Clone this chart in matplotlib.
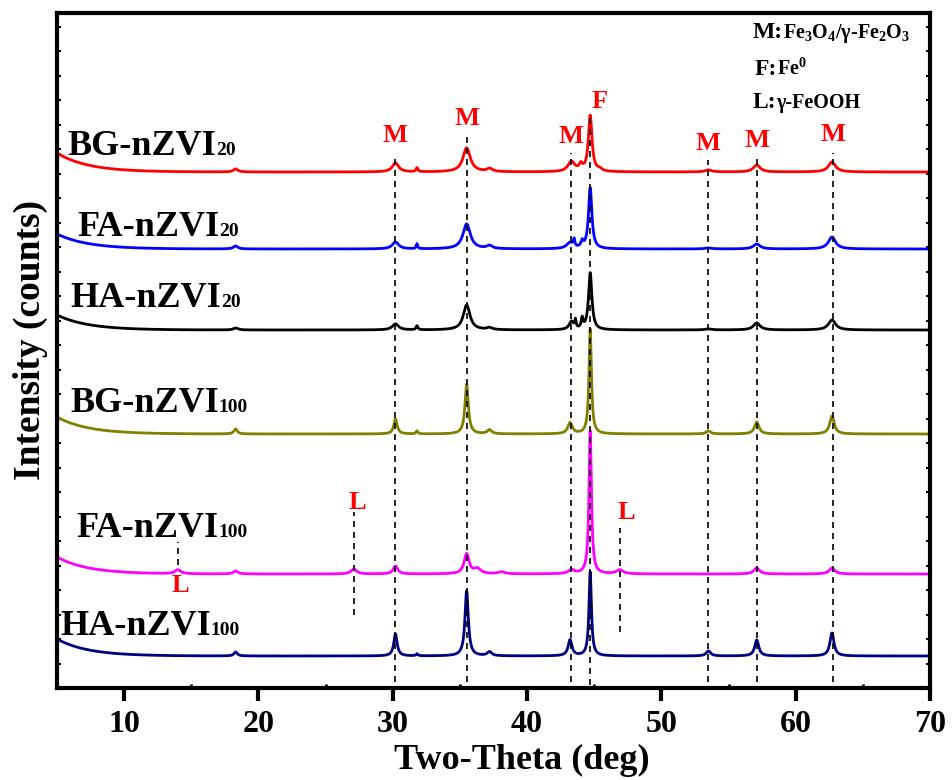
import matplotlib.pyplot as plt
import numpy as np
from matplotlib.ticker import MultipleLocator

# Bold serif everywhere, also inside math text (sub/superscripts)
plt.rcParams['font.family'] = 'Liberation Serif'
plt.rcParams['font.weight'] = 'bold'
plt.rcParams['mathtext.fontset'] = 'custom'
plt.rcParams['mathtext.rm'] = 'Liberation Serif:bold'
plt.rcParams['mathtext.it'] = 'Liberation Serif:bold'
plt.rcParams['mathtext.bf'] = 'Liberation Serif:bold'

# Samples (stacked from top to bottom)
names = ["BG-nZVI", "FA-nZVI", "HA-nZVI", "BG-nZVI", "FA-nZVI", "HA-nZVI"]
doses = ["20", "20", "20", "100", "100", "100"]
colors = ["#ff0000", "#0000ff", "#000000", "#808000", "#ff00ff", "#000080"]

# Background of each trace: flat level, extra counts at 5 deg, decay length (deg)
base = [516, 439, 358, 254, 114, 32]
rise = [19, 15, 15, 17, 17, 17]
decay = [2.3, 2.3, 2.3, 2.3, 2.3, 2.3]

# Peaks: position (deg), height above background, half width (deg)
bg20_pos = [18.3, 30.2, 31.8, 35.5, 37.2, 43.3, 44.0, 44.7, 45.4, 53.5, 57.1, 62.7]
bg20_h = [3, 9, 4, 24, 3, 10, 6, 56, 2, 2, 7, 10]
bg20_w = [0.2, 0.28, 0.08, 0.33, 0.25, 0.3, 0.15, 0.16, 0.2, 0.3, 0.3, 0.32]

fa20_pos = [18.3, 30.2, 31.8, 35.5, 37.2, 43.2, 43.5, 44.1, 44.7, 53.5, 57.1, 62.7]
fa20_h = [3, 7, 5, 25, 3, 6, 7, 6, 61, 1, 5, 12]
fa20_w = [0.2, 0.28, 0.06, 0.33, 0.25, 0.3, 0.06, 0.1, 0.15, 0.3, 0.3, 0.32]

ha20_pos = [18.3, 30.2, 31.8, 35.5, 37.2, 43.3, 43.6, 44.1, 44.7, 53.5, 57.1, 62.7]
ha20_h = [2, 6, 4, 25, 2, 8, 8, 10, 57, 1, 7, 10]
ha20_w = [0.2, 0.28, 0.08, 0.3, 0.25, 0.2, 0.06, 0.08, 0.15, 0.3, 0.3, 0.32]

bg100_pos = [18.3, 30.2, 31.8, 35.5, 37.2, 43.2, 44.7, 53.5, 57.1, 62.7]
bg100_h = [5, 15, 3, 50, 4, 11, 105, 3, 12, 18]
bg100_w = [0.15, 0.15, 0.08, 0.15, 0.2, 0.2, 0.11, 0.2, 0.2, 0.2]

fa100_pos = [14.0, 18.3, 27.1, 30.2, 35.5, 36.3, 38.1, 43.3, 44.7, 46.9, 57.1, 62.7]
fa100_h = [4, 3, 5, 8, 20, 5, 2, 4, 143, 4, 6, 6]
fa100_w = [0.25, 0.2, 0.25, 0.2, 0.22, 0.3, 0.3, 0.25, 0.11, 0.3, 0.25, 0.25]

ha100_pos = [18.3, 30.2, 31.8, 35.5, 37.2, 43.2, 44.7, 53.5, 57.1, 62.7]
ha100_h = [4, 22, 2, 65, 4, 16, 84, 5, 16, 23]
ha100_w = [0.15, 0.15, 0.08, 0.15, 0.2, 0.17, 0.11, 0.2, 0.18, 0.18]

peaks = [(bg20_pos, bg20_h, bg20_w), (fa20_pos, fa20_h, fa20_w),
         (ha20_pos, ha20_h, ha20_w), (bg100_pos, bg100_h, bg100_w),
         (fa100_pos, fa100_h, fa100_w), (ha100_pos, ha100_h, ha100_w)]

# Phase markers: M = magnetite/maghemite, F = Fe0, L = lepidocrocite
m_pos = [30.2, 35.5, 43.3, 53.5, 57.1, 62.8]
m_top = [531, 555, 535, 528, 529, 535]
m_label_y = [546, 563, 545, 538, 541, 547]
f_pos = 44.7
f_top = 570
l_pos = [14.0, 27.1, 46.9]
l_line = [(123, 146), (73, 176), (56, 160)]
l_label_xy = [(14.2, 96), (27.4, 179), (47.4, 169)]

# Label positions (deg, baseline)
label_xy = [(5.74, 533), (6.49, 452), (5.97, 381), (5.97, 276), (6.41, 151), (5.22, 53)]

two_theta = np.arange(5, 70.001, 0.02)

fig = plt.figure(figsize=(9.52, 7.8), dpi=100)
ax = fig.add_axes([57 / 952, 92 / 780, 873 / 952, 675 / 780])

# Draw the traces: background plus Lorentzian peaks
for i in range(6):
    y = base[i] + rise[i] * np.exp(-(two_theta - 5) / decay[i])
    pos, h, w = peaks[i]
    for p, hh, ww in zip(pos, h, w):
        y = y + hh * ww ** 2 / ((two_theta - p) ** 2 + ww ** 2)
    ax.plot(two_theta, y, color=colors[i], linewidth=2)

# Dashed reference lines and phase letters
dash = (0, (3.6, 3))
for x, top, ly in zip(m_pos, m_top, m_label_y):
    ax.plot([x, x], [6, top], color="black", linewidth=1.2, linestyle=dash)
    ax.text(x, ly, "M", color="#ff0000", fontsize=19, ha="center", va="baseline")
ax.plot([f_pos, f_pos], [3, f_top], color="black", linewidth=1.2, linestyle=dash)
ax.text(45.4, 580, "F", color="#ff0000", fontsize=19, ha="center", va="baseline")
for x, (y0, y1), (lx, ly) in zip(l_pos, l_line, l_label_xy):
    ax.plot([x, x], [y0, y1], color="black", linewidth=1.2, linestyle=dash)
    ax.text(lx, ly, "L", color="#ff0000", fontsize=19, ha="center", va="baseline")

# Sample names, dose written smaller right after
heads = []
for (x, y), n in zip(label_xy, names):
    heads.append(ax.text(x, y, n, fontsize=26, va="baseline"))

# Phase key in the top right corner
key_heads = [ax.text(56.8, 650, "M:", fontsize=17, va="baseline"),
             ax.text(56.97, 613, "F:", fontsize=17, va="baseline"),
             ax.text(56.8, 580, "L:", fontsize=17, va="baseline")]
key_tails = ["Fe$_3$O$_4$/γ-Fe$_2$O$_3$", "Fe$^0$", "γ-FeOOH"]

ax.set_xlim(5, 70)
ax.set_ylim(0, 675)
ax.xaxis.set_major_locator(MultipleLocator(10))
ax.xaxis.set_minor_locator(MultipleLocator(5))
ax.yaxis.set_major_locator(MultipleLocator(24.5))
ax.tick_params(axis="x", which="major", direction="out", length=9, width=3,
               pad=7, labelsize=23)
ax.tick_params(axis="x", which="minor", direction="in", length=3, width=2)
ax.tick_params(axis="y", which="major", direction="in", length=3, width=1.5,
               left=True, right=True, labelleft=False)
for s in ax.spines.values():
    s.set_linewidth(3)

fig.text(522 / 952, 1 - 760 / 780, "Two-Theta (deg)", fontsize=26,
         ha="center", va="center")
fig.text(30 / 952, 1 - 340 / 780, "Intensity (counts)", fontsize=27,
         rotation=90, ha="center", va="center")

# Put the small text right behind the big one
fig.canvas.draw()
inv = ax.transData.inverted()


def tail(head, s, size):
    bb = head.get_window_extent()
    x = inv.transform((bb.x1, bb.y0))[0]
    ax.text(x, head.get_position()[1], s, fontsize=size, va="baseline")


for t, d in zip(heads, doses):
    tail(t, d, 14)
for t, s in zip(key_heads, key_tails):
    tail(t, s, 14.5)

plt.savefig("out.png", dpi=100)
